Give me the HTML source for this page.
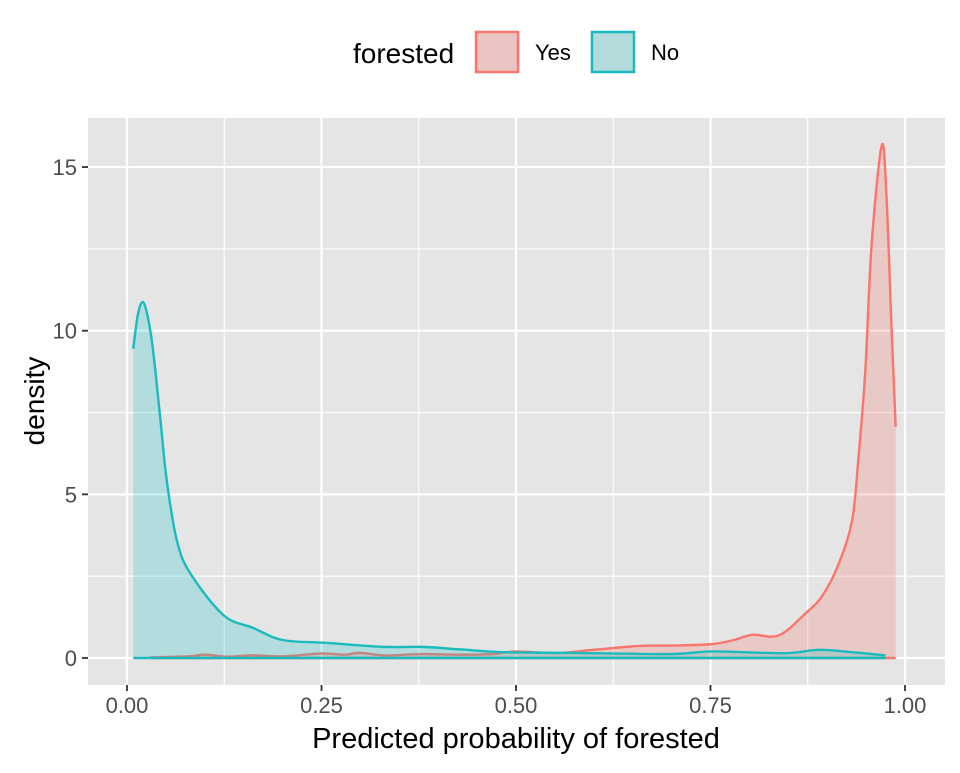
<!DOCTYPE html>
<html><head><meta charset="utf-8"><style>
body{margin:0;background:#fff;}
svg text{font-family:"Liberation Sans",Arial,sans-serif;}
</style></head><body>
<svg id="chart" width="960" height="768" viewBox="0 0 960 768" xmlns="http://www.w3.org/2000/svg">
<rect x="88" y="118" width="857" height="567" fill="#e5e5e5"/>
<g id="grid"></g>
<g id="marks"></g>
<g id="axes"></g>
<text x="516" y="748" font-size="29" text-anchor="middle" fill="#000">Predicted probability of forested</text>
<text x="0" y="0" font-size="28" text-anchor="middle" fill="#000" transform="translate(44,401) rotate(-90)">density</text>
<g>
<text x="353" y="63" font-size="28" fill="#000">forested</text>
<rect x="476" y="32" width="42" height="40" fill="#ebc4c4" stroke="#F8766D" stroke-width="2.5"/>
<text x="535" y="60" font-size="22" fill="#000">Yes</text>
<rect x="592" y="32" width="42" height="40" fill="#b3dbdc" stroke="#1ABBBE" stroke-width="2.5"/>
<text x="651" y="60" font-size="22" fill="#000">No</text>
</g>
</svg>
<script>
const xTicks=[0,0.25,0.5,0.75,1];
const xTickLabels=["0.00","0.25","0.50","0.75","1.00"];
const yTicks=[0,5,10,15];
const yTickLabels=["0","5","10","15"];
const noX=[0.008,0.014,0.02,0.026,0.033,0.043,0.051,0.064,0.081,0.124,0.162,0.2,0.258,0.33,0.38,0.43,0.48,0.55,0.62,0.7,0.75,0.8,0.85,0.89,0.93,0.975];
const noY=[9.45,10.5,10.88,10.5,9.5,7.27,5.44,3.6,2.6,1.31,0.92,0.55,0.46,0.34,0.34,0.26,0.18,0.16,0.14,0.12,0.2,0.17,0.15,0.25,0.18,0.08];
const yesX=[0.03,0.08,0.1,0.13,0.16,0.2,0.25,0.28,0.3,0.33,0.38,0.43,0.47,0.5,0.55,0.6,0.659,0.7,0.75,0.78,0.804,0.838,0.872,0.894,0.915,0.932,0.94,0.949,0.957,0.97,0.976,0.983,0.988];
const yesY=[0.02,0.05,0.1,0.04,0.08,0.05,0.14,0.1,0.16,0.08,0.12,0.1,0.12,0.2,0.15,0.25,0.37,0.38,0.42,0.55,0.71,0.69,1.36,1.91,2.89,4.2,6.06,8.78,12.6,15.65,14.2,9.9,7.06];
const NS='http://www.w3.org/2000/svg';
const xS=v=>127+778*v, yS=d=>658-32.73*d;
const grid=document.getElementById('grid'),axes=document.getElementById('axes'),marks=document.getElementById('marks');
function mk(t,a,p){const e=document.createElementNS(NS,t);for(const k in a)e.setAttribute(k,a[k]);p.appendChild(e);return e;}
for(let i=0;i<xTicks.length;i++){
  const x=xS(xTicks[i]);
  const g=mk('line',{x1:x,x2:x,y1:118,y2:685,stroke:'#fff','stroke-width':2.2},grid);
  
  
  if(i<xTicks.length-1){const xm=xS((xTicks[i]+xTicks[i+1])/2);
    const m=mk('line',{x1:xm,x2:xm,y1:118,y2:685,stroke:'#fff','stroke-width':1.1},grid);
    
    }
  const tk=mk('line',{x1:x,x2:x,y1:685,y2:691,stroke:'#333','stroke-width':1.8},axes);
  
  
  const t=mk('text',{x:x,y:713,'font-size':22,'text-anchor':'middle',fill:'#4d4d4d'},axes);t.textContent=xTickLabels[i];
  
  
}
for(let i=0;i<yTicks.length;i++){
  const y=yS(yTicks[i]);
  const g=mk('line',{x1:88,x2:945,y1:y,y2:y,stroke:'#fff','stroke-width':2.2},grid);
  
  
  const ym=yS(yTicks[i]+2.5);
  if(ym>118){const m=mk('line',{x1:88,x2:945,y1:ym,y2:ym,stroke:'#fff','stroke-width':1.1},grid);
    
    }
  const tk=mk('line',{x1:82,x2:88,y1:y,y2:y,stroke:'#333','stroke-width':1.8},axes);
  
  
  const t=mk('text',{x:77,y:y+8,'font-size':22,'text-anchor':'end',fill:'#4d4d4d'},axes);t.textContent=yTickLabels[i];
  
  
}
function smooth(xs,ys){
  const p=xs.map((v,i)=>[xS(v),yS(ys[i])]);
  let d='M'+p[0][0]+','+p[0][1];
  for(let i=0;i<p.length-1;i++){
    const p0=p[Math.max(0,i-1)],p1=p[i],p2=p[i+1],p3=p[Math.min(p.length-1,i+2)];
    const c1=[p1[0]+(p2[0]-p0[0])/6,p1[1]+(p2[1]-p0[1])/6],c2=[p2[0]-(p3[0]-p1[0])/6,p2[1]-(p3[1]-p1[1])/6];
    d+=' C'+c1+' '+c2+' '+p2;
  }
  return d;
}
function series(xs,ys,col,fill,name){
  const top=smooth(xs,ys);
  const x0=xS(xs[0]),x1=xS(xs[xs.length-1]),y0=yS(0);
  const a=mk('path',{d:top+' L'+x1+','+y0+' L'+x0+','+y0+' Z',fill:fill,stroke:'none'},marks);
  
  
  const b=mk('line',{x1:x0,x2:x1,y1:y0,y2:y0,stroke:col,'stroke-width':2.4},marks);
  
  
  const l=mk('path',{d:top,fill:'none',stroke:col,'stroke-width':2.4},marks);
  
  
}
series(yesX,yesY,'#F8766D','rgba(248,118,109,0.25)','density-yes');
series(noX,noY,'#1ABBBE','rgba(0,191,196,0.22)','density-no');
</script>
</body></html>
